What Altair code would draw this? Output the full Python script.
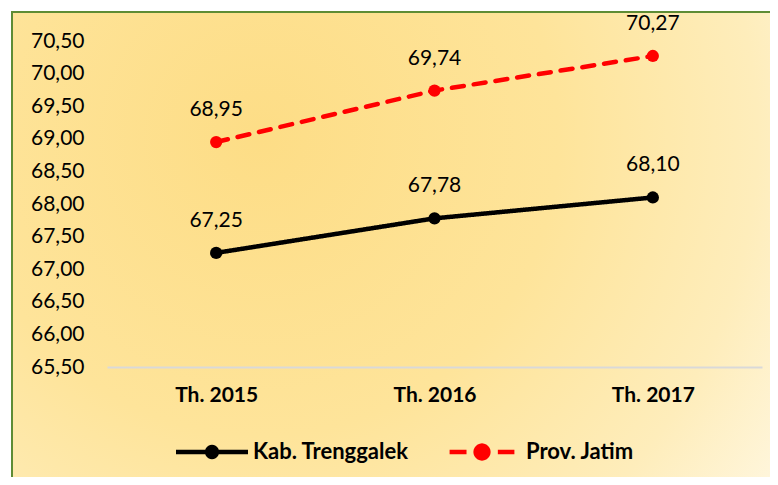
import math
import altair as alt
import pandas as pd

years = ["Th. 2015", "Th. 2016", "Th. 2017"]
series = ["Kab. Trenggalek", "Prov. Jatim"]
kab = [67.25, 67.78, 68.10]
jatim = [68.95, 69.74, 70.27]
colors = ["#000000", "#FF0000"]
dashes = [[1, 0], [12, 10]]
y_ticks = [65.5, 66.0, 66.5, 67.0, 67.5, 68.0, 68.5, 69.0, 69.5, 70.0, 70.5]

rows = []
for name, vals in zip(series, [kab, jatim]):
    for yr, v in zip(years, vals):
        rows.append({"year": yr, "series": name, "value": v})
df = pd.DataFrame(rows)

FONT = "Lato"


# legend symbol shapes (unit square -1..1), polygons only
def rect(x0, x1, h):
    return f"M{x0},{-h}L{x1},{-h}L{x1},{h}L{x0},{h}"


def disc(r, n=24):
    pts = [(round(r * math.cos(2 * math.pi * i / n), 4), round(r * math.sin(2 * math.pi * i / n), 4))
           for i in range(n)]
    return "M" + "L".join(f"{px},{py}" for px, py in pts)


path_solid = rect(-1, 1, 0.06) + disc(0.2)
path_dash = rect(-0.9, -0.43, 0.065) + rect(0.44, 0.9, 0.065) + disc(0.24)
sym_paths = [path_solid, path_dash]

gradient = {
    "gradient": "radial",
    "x1": 0.32, "y1": 0.35, "r1": 0,
    "x2": 0.32, "y2": 0.35, "r2": 0.85,
    "stops": [
        {"offset": 0, "color": "#FDDD86"},
        {"offset": 0.45, "color": "#FEE49A"},
        {"offset": 0.75, "color": "#FEEDBB"},
        {"offset": 1, "color": "#FFF9E8"},
    ],
}

bg = alt.Chart(pd.DataFrame({"a": [0]})).mark_rect(
    fill=gradient, stroke="#5E8C35", strokeWidth=2
).encode(
    x=alt.value(-95), x2=alt.value(683), y=alt.value(-29), y2=alt.value(456)
)

x_enc = alt.X("year:N", sort=years, title=None,
              scale=alt.Scale(type="point", padding=0.5),
              axis=alt.Axis(labelAngle=0, labelFont=FONT, labelFontSize=21,
                            labelFontWeight="bold", labelColor="#000000",
                            labelPadding=17, ticks=False, grid=False,
                            domainColor="#D9D9D9", domainWidth=2, zindex=1))
y_enc = alt.Y("value:Q", title=None,
              scale=alt.Scale(domain=[65.5, 70.5], nice=False, zero=False),
              axis=alt.Axis(values=y_ticks, domain=False, ticks=False, grid=False,
                            labelFont=FONT, labelFontSize=21, labelColor="#000000",
                            labelPadding=23, zindex=1,
                            labelExpr="replace(format(datum.value, '.2f'), '.', ',')"))

base = alt.Chart(df).encode(x=x_enc, y=y_enc)

layers = [bg]
for name, col, dash in zip(series, colors, dashes):
    sub = base.transform_filter(alt.datum.series == name)
    layers.append(sub.mark_line(strokeWidth=4.5, strokeCap="round", color=col, strokeDash=dash))
    layers.append(sub.mark_point(filled=True, size=150, opacity=1, color=col))

labels = base.transform_calculate(
    lab="replace(format(datum.value, '.2f'), '.', ',')"
).mark_text(dy=-32, font=FONT, fontSize=21, color="#000000").encode(text="lab:N")
layers.append(labels)

leg_common = dict(title=None, orient="none", legendY=375, direction="horizontal",
                  symbolSize=5184, symbolStrokeWidth=0,
                  labelFont=FONT, labelFontSize=22, labelFontWeight="bold",
                  labelColor="#000000", labelLimit=400, zindex=1)

legA = alt.Legend(legendX=69, labelOffset=5, **leg_common)
legB = alt.Legend(legendX=339, labelOffset=8, **leg_common)

leg_a = base.transform_filter(alt.datum.series == series[0]).mark_point(
    filled=True, opacity=0, shape=sym_paths[0]
).encode(fill=alt.Fill("series:N", scale=alt.Scale(domain=[series[0]], range=[colors[0]]), legend=legA))
leg_b = base.transform_filter(alt.datum.series == series[1]).mark_point(
    filled=True, opacity=0, shape=sym_paths[1]
).encode(color=alt.Color("series:N", scale=alt.Scale(domain=[series[1]], range=[colors[1]]), legend=legB))
layers += [leg_a, leg_b]

chart = alt.layer(*layers).properties(
    width=655, height=326,
    padding={"left": 99, "top": 33, "right": 8, "bottom": 110},
    autosize=alt.AutoSizeParams(type="none"),
    background="white",
).configure_view(stroke=None)

chart.save("out.html", embed_options={"renderer": "svg", "actions": False})
